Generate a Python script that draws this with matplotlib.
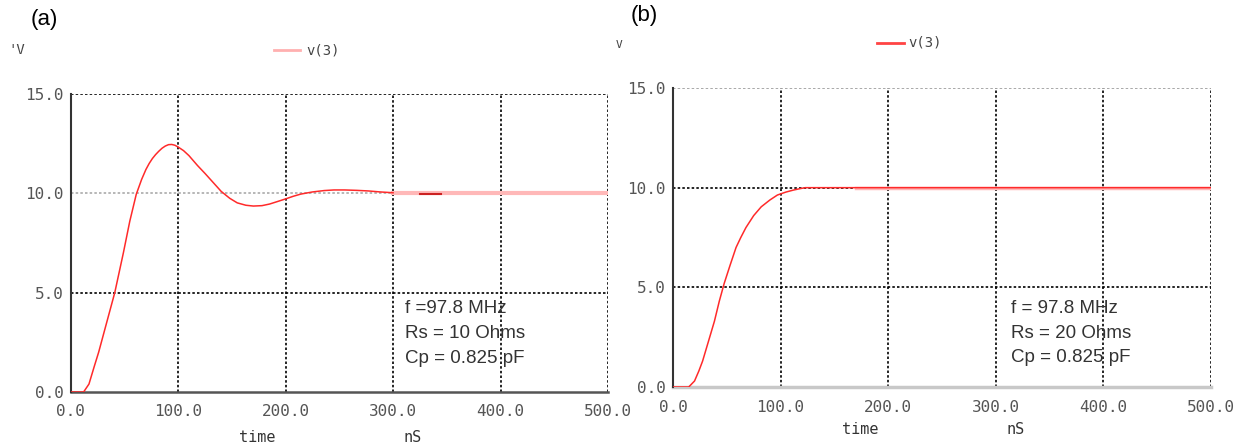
import matplotlib
matplotlib.use("Agg")
import matplotlib.pyplot as plt

# panel (a): Rs = 10 Ohms, damped ringing
t_a = [0, 12, 17, 22, 26, 30, 36, 41, 45, 49, 55, 61, 66, 70, 73, 76, 79, 82, 85, 88, 91,
       94, 97, 100, 105, 110, 118, 125, 130, 135, 140, 148, 155, 163, 170, 178, 185, 192,
       200, 207, 214, 225, 236, 245, 255, 266, 277, 288, 300]
v_a = [0.0, 0.0, 0.4, 1.3, 2.0, 2.8, 4.0, 5.0, 6.0, 7.0, 8.6, 9.95, 10.7, 11.2, 11.5, 11.75,
       11.95, 12.12, 12.27, 12.38, 12.45, 12.46, 12.42, 12.33, 12.15, 11.9, 11.4, 11.0, 10.7,
       10.4, 10.1, 9.75, 9.52, 9.4, 9.36, 9.38, 9.46, 9.58, 9.72, 9.85, 9.96, 10.07, 10.14,
       10.17, 10.17, 10.15, 10.12, 10.07, 10.03]
t_a_tail = [300, 500]
v_a_tail = [10.0, 10.0]
t_a_dash = [325, 345]
v_a_dash = [9.95, 9.95]

# panel (b): Rs = 20 Ohms, overdamped rise
t_b = [0, 14.6, 20, 24, 27.5, 33, 38.5, 43, 47.6, 53, 58.6, 63, 67.8, 75, 82, 90, 97, 105,
       112, 118, 123, 500]
v_b = [0.0, 0.0, 0.3, 0.8, 1.3, 2.3, 3.3, 4.3, 5.2, 6.1, 7.0, 7.5, 8.0, 8.6, 9.04, 9.38,
       9.63, 9.78, 9.88, 9.95, 10.0, 10.0]

x_ticks = [0, 100, 200, 300, 400, 500]
x_labels = ["0.0", "100.0", "200.0", "300.0", "400.0", "500.0"]
y_ticks = [0, 5, 10, 15]
y_labels = ["0.0", "5.0", "10.0", "15.0"]
notes_a = ["f =97.8 MHz", "Rs = 10 Ohms", "Cp = 0.825 pF"]
notes_b = ["f = 97.8 MHz", "Rs = 20 Ohms", "Cp = 0.825 pF"]

W, H = 1238, 445
fig = plt.figure(figsize=(W / 100, H / 100), dpi=100)

def px(x, y):
    return x / W, 1 - y / H

mono = "DejaVu Sans Mono"
dots = (0, (1.5, 1.3))

def setup(ax, grid10_color="black", top_color="black", bottom_color="#555555", bottom_lw=1.8):
    ax.set_xlim(0, 500)
    ax.set_ylim(0, 15)
    for s in ["top", "right"]:
        ax.spines[s].set_visible(False)
    ax.spines["left"].set_color("#333333")
    ax.spines["left"].set_linewidth(1.5)
    ax.spines["bottom"].set_color(bottom_color)
    ax.spines["bottom"].set_linewidth(bottom_lw)
    ax.spines["bottom"].set_zorder(1.5)
    for x in x_ticks[1:]:
        ax.axvline(x, color="black", ls=dots, lw=1.2, zorder=1)
    ax.axhline(5, color="black", ls=dots, lw=1.2, zorder=1)
    ax.axhline(15, color=top_color, ls=dots, lw=1.2, zorder=1)
    ax.axhline(10, color=grid10_color, ls=dots, lw=1.2, zorder=1)
    ax.set_xticks(x_ticks)
    ax.set_xticklabels(x_labels, family=mono, fontsize=11.5, color="#555555")
    ax.set_yticks(y_ticks)
    ax.set_yticklabels(y_labels, family=mono, fontsize=11.5, color="#555555")
    ax.tick_params(length=0, pad=9)
    ax.tick_params(axis="y", pad=5)
    ax.set_facecolor("white")

# (a)
ax1 = fig.add_axes([70.7 / W, 53 / H, 537.3 / W, 298 / H])
setup(ax1, grid10_color="#aaaaaa")
ax1.plot(t_a_tail, v_a_tail, color="#ffb8b8", lw=3, zorder=2)
ax1.plot(t_a, v_a, color="#ff2a2a", lw=1.1, zorder=3)
ax1.plot(t_a_dash, v_a_dash, color="#cc2222", lw=1.5, zorder=3)
for i, s in enumerate(notes_a):
    ax1.text(311, 4.18 - i * 1.25, s, family="Liberation Sans", fontsize=13.5,
             color="#333333", va="center")

# (b)
ax2 = fig.add_axes([673 / W, 58 / H, 538 / W, 299 / H])
setup(ax2, top_color="#999999", bottom_color="#c8c8c8", bottom_lw=2.5)
ax2.plot(t_b, v_b, color="#ff2a2a", lw=1.1, zorder=3)
ax2.plot([170, 500], [10, 10], color="#ffb8b8", lw=2.5, zorder=2)
for i, s in enumerate(notes_b):
    ax2.text(314, 3.92 - i * 1.23, s, family="Liberation Sans", fontsize=13.5,
             color="#333333", va="center")

# panel letters, axis units, legends
fig.text(*px(31, 20), "(a)", family="Liberation Sans", fontsize=16, va="center")
fig.text(*px(631, 15), "(b)", family="Liberation Sans", fontsize=16, va="center")
fig.text(*px(8, 50), "'V", family=mono, fontsize=10, color="#444444", va="center")
fig.text(*px(616, 45), "V", family=mono, fontsize=8, color="#444444", va="center")

fig.add_artist(plt.Line2D([274 / W, 300 / W], [1 - 50 / H] * 2, color="#ffb0b0", lw=2))
fig.text(*px(306, 50), "v(3)", family=mono, fontsize=10, color="#444444", va="center")
fig.add_artist(plt.Line2D([877 / W, 904 / W], [1 - 43 / H] * 2, color="#ff4444", lw=2))
fig.text(*px(908, 43), "v(3)", family=mono, fontsize=10, color="#444444", va="center")

fig.text(*px(257, 437), "time", family=mono, fontsize=11, color="#333333", ha="center", va="center")
fig.text(*px(413, 437), "nS", family=mono, fontsize=11, color="#333333", ha="center", va="center")
fig.text(*px(860, 430), "time", family=mono, fontsize=11, color="#333333", ha="center", va="center")
fig.text(*px(1016, 430), "nS", family=mono, fontsize=11, color="#333333", ha="center", va="center")

fig.savefig("out.png", dpi=100)
